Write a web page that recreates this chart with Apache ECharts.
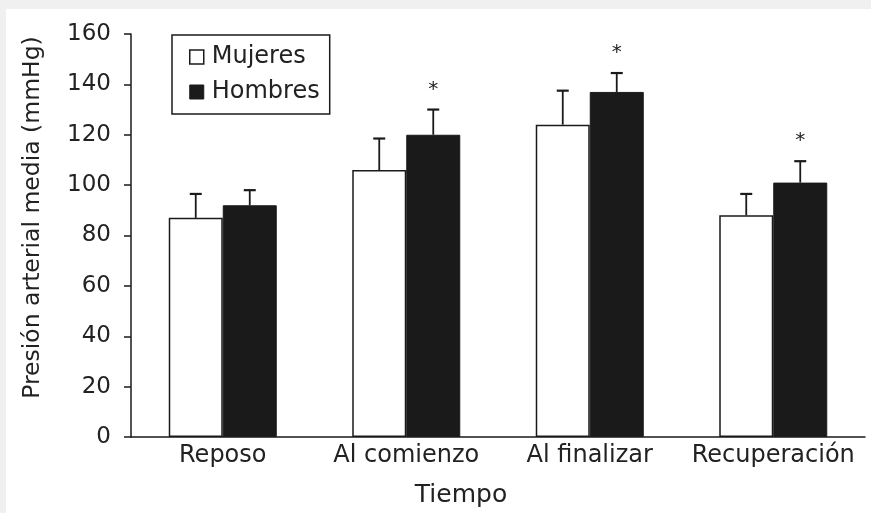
<!DOCTYPE html>
<html>
<head>
<meta charset="utf-8">
<script src="https://cdn.jsdelivr.net/npm/echarts@6/dist/echarts.min.js"></script>
<style>
  html, body { margin: 0; padding: 0; background: #f0f0f0; }
  #chart { position: absolute; left: 6px; top: 9px; width: 865px; height: 504px; background: #ffffff; }
</style>
</head>
<body>
<div id="chart"></div>
<script>
// Data
var categories = ['Reposo', 'Al comienzo', 'Al finalizar', 'Recuperación'];
var mujeres = [87, 106, 124, 88];
var hombres = [92, 120, 137, 101];
var mujeresErr = [9.5, 12.5, 13.5, 8.5];
var hombresErr = [6, 10, 7.5, 8.5];
var hombresSig = [false, true, true, true];
var yTicks = [0, 20, 40, 60, 80, 100, 120, 140, 160];

var FONT = 'DejaVu Sans';
var BAR_W = 54;

// error bar (+ optional asterisk) drawn on top of a bar
function errorRenderer(values, errs, sig, offset) {
  return function (params, api) {
    var i = params.dataIndex;
    var base = api.coord([i, values[i]]);
    var top = api.coord([i, values[i] + errs[i]]);
    var x = base[0] + offset;
    var children = [
      { type: 'line', shape: { x1: x, y1: base[1], x2: x, y2: top[1] },
        style: { stroke: '#1a1a1a', lineWidth: 1.8 } },
      { type: 'line', shape: { x1: x - 6, y1: top[1], x2: x + 6, y2: top[1] },
        style: { stroke: '#1a1a1a', lineWidth: 2.2 } }
    ];
    if (sig && sig[i]) {
      children.push({
        type: 'text',
        style: { text: '*', x: x, y: top[1] - 20, align: 'center', verticalAlign: 'middle',
                 font: '20px ' + FONT, fill: '#222' }
      });
    }
    return { type: 'group', children: children };
  };
}

var chart = echarts.init(document.getElementById('chart'));
var option = {
  animation: false,
  textStyle: { fontFamily: FONT },
  grid: { left: 125, top: 25, width: 734, height: 403 },
  legend: {
    orient: 'vertical',
    left: 166, top: 26,
    padding: [9, 10, 9, 17],
    itemGap: 9,
    itemWidth: 14, itemHeight: 14,
    borderColor: '#1a1a1a', borderWidth: 1.5,
    textStyle: { fontFamily: FONT, fontSize: 24, color: '#222', lineHeight: 26, padding: [0, 0, 0, 3] },
    data: [
      { name: 'Mujeres', icon: 'rect', itemStyle: { color: '#fff', borderColor: '#1a1a1a', borderWidth: 1.5 } },
      { name: 'Hombres', icon: 'rect', itemStyle: { color: '#1a1a1a', borderColor: '#1a1a1a', borderWidth: 1 } }
    ]
  },
  xAxis: {
    type: 'category',
    data: categories,
    name: 'Tiempo',
    nameLocation: 'middle',
    nameGap: 46,
    nameTextStyle: { fontSize: 25, color: '#222', fontFamily: FONT, padding: [0, 74, 0, 0] },
    axisLine: { lineStyle: { color: '#1a1a1a', width: 1.5 } },
    axisTick: { length: 7, lineStyle: { color: '#1a1a1a', width: 1.5 } },
    axisLabel: { fontSize: 24, color: '#222', margin: 7, fontFamily: FONT, interval: 0 }
  },
  yAxis: {
    type: 'value',
    min: yTicks[0], max: yTicks[yTicks.length - 1], interval: 20,
    name: 'Presión arterial media (mmHg)',
    nameLocation: 'middle',
    nameGap: 86,
    nameTextStyle: { fontSize: 23.5, color: '#222', fontFamily: FONT, padding: [0, 0, 0, 36] },
    splitLine: { show: false },
    axisLine: { show: true, lineStyle: { color: '#1a1a1a', width: 1.5 } },
    axisTick: { show: true, length: 7, lineStyle: { color: '#1a1a1a', width: 1.5 } },
    axisLabel: { fontSize: 23, color: '#222', margin: 20, fontFamily: FONT }
  },
  series: [
    {
      name: 'Mujeres', type: 'bar', data: mujeres, barWidth: BAR_W, barGap: '0%',
      itemStyle: { color: '#fff', borderColor: '#1a1a1a', borderWidth: 1.5 }
    },
    {
      name: 'Hombres', type: 'bar', data: hombres, barWidth: BAR_W, barGap: '0%',
      itemStyle: { color: '#1a1a1a', borderColor: '#1a1a1a', borderWidth: 1 }
    },
    {
      type: 'custom', data: mujeres, z: 5,
      renderItem: errorRenderer(mujeres, mujeresErr, null, -BAR_W / 2)
    },
    {
      type: 'custom', data: hombres, z: 5,
      renderItem: errorRenderer(hombres, hombresErr, hombresSig, BAR_W / 2)
    }
  ]
};
chart.setOption(option);
</script>
</body>
</html>
